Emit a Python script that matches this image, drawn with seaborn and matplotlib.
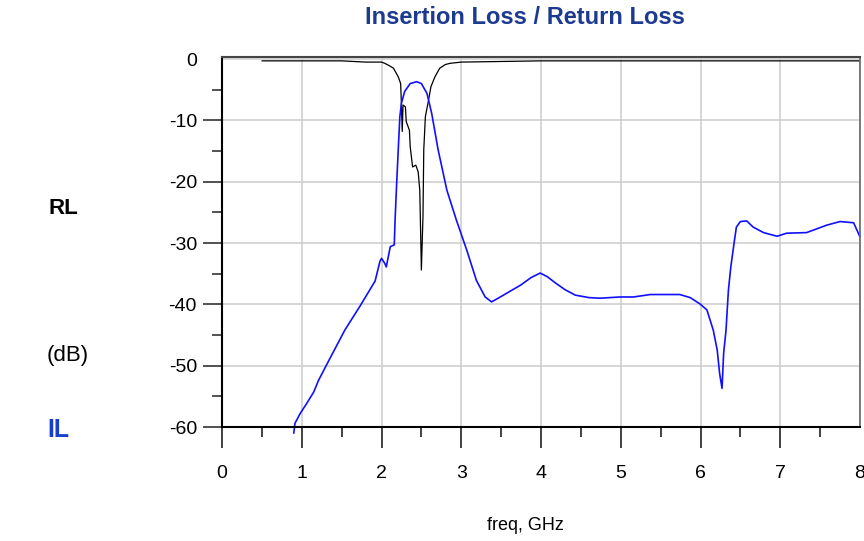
import numpy as np
import pandas as pd
import seaborn as sns
import matplotlib.pyplot as plt
from matplotlib.ticker import MultipleLocator

# ---- data ----
rl_freq = [0.50, 1.00, 1.50, 1.80, 2.00, 2.04, 2.10, 2.15, 2.21, 2.24, 2.25, 2.26, 2.27,
           2.30, 2.31, 2.35, 2.36, 2.39, 2.43, 2.46, 2.48, 2.50, 2.52, 2.53, 2.55, 2.59,
           2.62, 2.67, 2.73, 2.80, 2.86, 3.00, 3.50, 4.00, 5.00, 6.00, 7.00, 8.00]
rl_db = [-0.3, -0.3, -0.3, -0.5, -0.5, -0.7, -1.1, -1.5, -2.9, -4.0, -7.5, -11.8, -7.5,
         -7.8, -10.2, -11.6, -14.3, -17.6, -17.3, -18.4, -21.4, -34.4, -25.7, -14.8, -9.4, -6.7,
         -4.5, -2.9, -1.5, -0.9, -0.7, -0.5, -0.4, -0.3, -0.3, -0.3, -0.3, -0.3]

il_freq = [0.90, 0.915, 0.98, 1.06, 1.15, 1.21, 1.35, 1.54, 1.73, 1.92, 1.98, 2.00, 2.04,
           2.06, 2.11, 2.16, 2.17, 2.19, 2.21, 2.23, 2.25, 2.29, 2.36, 2.44, 2.50, 2.57,
           2.63, 2.71, 2.82, 2.94, 3.07, 3.19, 3.30, 3.38, 3.49, 3.62, 3.74, 3.88, 3.99,
           4.08, 4.18, 4.30, 4.43, 4.60, 4.74, 4.99, 5.16, 5.37, 5.74, 5.87, 5.99, 6.08,
           6.16, 6.21, 6.24, 6.27, 6.29, 6.32, 6.35, 6.38, 6.42, 6.45, 6.50, 6.58, 6.66,
           6.79, 6.96, 7.08, 7.33, 7.58, 7.75, 7.92, 8.00]
il_db = [-61.0, -59.4, -57.8, -56.2, -54.3, -52.4, -48.9, -44.2, -40.3, -36.2, -33.0, -32.5, -33.3,
         -33.9, -30.6, -30.3, -26.3, -20.3, -14.8, -9.4, -7.2, -5.3, -4.0, -3.7, -4.0, -5.6,
         -8.9, -14.8, -21.4, -26.3, -31.2, -36.1, -38.8, -39.6, -38.8, -37.8, -36.9, -35.6, -34.9,
         -35.5, -36.5, -37.6, -38.5, -38.9, -39.0, -38.8, -38.8, -38.4, -38.4, -38.9, -39.9, -40.9,
         -44.2, -47.5, -51.3, -53.7, -48.0, -44.2, -37.7, -33.9, -30.1, -27.4, -26.5, -26.4, -27.4,
         -28.3, -28.9, -28.4, -28.3, -27.1, -26.5, -26.7, -29.0]

x_ticks = [0, 1, 2, 3, 4, 5, 6, 7, 8]
y_ticks = [-60, -50, -40, -30, -20, -10, 0]

sns.set_style("ticks")
plt.rcParams["font.family"] = ["Liberation Sans", "DejaVu Sans"]
plt.rcParams["axes.unicode_minus"] = False
plt.rcParams["text.color"] = "black"
plt.rcParams["xtick.color"] = "#333333"
plt.rcParams["ytick.color"] = "#222222"
plt.rcParams["xtick.labelcolor"] = "black"
plt.rcParams["ytick.labelcolor"] = "black"

fig = plt.figure(figsize=(8.64, 5.41), dpi=100)
ax = fig.add_axes([222 / 864, 1 - 427 / 541, 638 / 864, 370 / 541])

rl = pd.DataFrame({"freq": rl_freq, "dB": rl_db})
il = pd.DataFrame({"freq": il_freq, "dB": il_db})
sns.lineplot(data=rl, x="freq", y="dB", ax=ax, color="black", lw=0.9, sort=False)
sns.lineplot(data=il, x="freq", y="dB", ax=ax, color="#1010ff", lw=1.2, sort=False, clip_on=False)

ax.set_xlim(0, 8)
ax.set_ylim(-60, 0.33)
ax.set_xticks(x_ticks)
ax.set_yticks(y_ticks)
ax.xaxis.set_minor_locator(MultipleLocator(0.5))
ax.yaxis.set_minor_locator(MultipleLocator(5))
ax.tick_params(axis="x", which="both", bottom=True, top=False, direction="out")
ax.tick_params(axis="y", which="both", left=True, right=False, direction="out")
ax.tick_params(axis="x", which="major", length=15, width=1.3, pad=12, labelsize=14)
ax.tick_params(axis="x", which="minor", length=7, width=1.3)
ax.tick_params(axis="y", which="major", length=14, width=1.1, pad=4, labelsize=14)
ax.tick_params(axis="y", which="minor", length=7, width=1.3, color="#444444")
ax.yaxis.get_major_ticks()[-1].tick1line.set_visible(False)
ax.xaxis.get_major_ticks()[-1].tick1line.set_visible(False)

ax.grid(True, which="major", color="#cccccc", lw=1.1)
ax.set_axisbelow(True)

for side in ["left", "bottom"]:
    ax.spines[side].set_color("black")
    ax.spines[side].set_linewidth(1.5)
ax.spines["top"].set_visible(True)
ax.spines["right"].set_visible(True)
ax.spines["top"].set_color("#444444")
ax.spines["top"].set_linewidth(1.5)
ax.spines["right"].set_color("#666666")
ax.spines["right"].set_linewidth(1.2)

ax.set_xlabel("")
ax.set_ylabel("")

fig.text(525 / 864, 1 - 18 / 541, "Insertion Loss / Return Loss", ha="center", va="center",
         fontsize=17, fontweight="bold", color="#1c3a8f",
         family=["Liberation Sans Narrow", "Liberation Sans"])
fig.text(525 / 864, 1 - 525 / 541, "freq, GHz", ha="center", va="center", fontsize=13)
fig.text(49 / 864, 1 - 208 / 541, "RL", ha="left", va="center", fontsize=16, fontweight="bold")
fig.text(47 / 864, 1 - 355 / 541, "(dB)", ha="left", va="center", fontsize=16)
fig.text(47 / 864, 1 - 430 / 541, "IL", ha="left", va="center", fontsize=18,
         fontweight="bold", color="#1a3fd0")

fig.savefig("out.png", dpi=100)
